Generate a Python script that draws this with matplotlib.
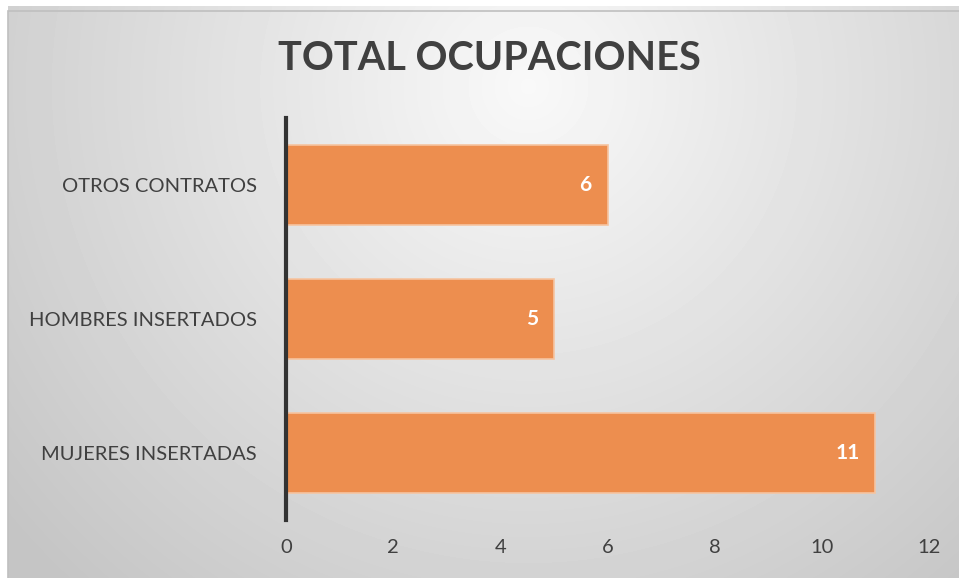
import matplotlib.pyplot as plt
import numpy as np
from matplotlib.patches import Rectangle

categorias = ["MUJERES INSERTADAS", "HOMBRES INSERTADOS", "OTROS CONTRATOS"]
valores = [11, 5, 6]
ticks_x = [0, 2, 4, 6, 8, 10, 12]

plt.rcParams['font.family'] = ['Lato', 'DejaVu Sans']
texto = '#404040'

fig = plt.figure(figsize=(9.59, 5.78), dpi=100)
fig.patch.set_facecolor('white')

# fondo con degradado radial
bg = fig.add_axes([8/959, 0, 951/959, 572/578], zorder=-1)
w, h = 951, 572
yy, xx = np.mgrid[0:h, 0:w]
d = np.sqrt(((xx - 520) / 600.0) ** 2 + ((yy - 80) / 600.0) ** 2)
g = np.clip(0.975 - 0.18 * d, 0.77, 1.0)
bg.imshow(g, cmap='gray', vmin=0, vmax=1, aspect='auto', extent=(0, w, h, 0))
bg.axis('off')
fig.patches.append(Rectangle((7.5/959, -0.01), 953/959, 572.5/578, transform=fig.transFigure,
                             fill=False, edgecolor='#bfbfbf', linewidth=1.2))

ax = fig.add_axes([286/959, 58/578, 643/959, 402/578])
ax.patch.set_alpha(0)
pos = np.arange(len(categorias))
bars = ax.barh(pos, valores, height=0.6, color='#ED8E4F', edgecolor='#F6C4A0', linewidth=1.2)
for b, v in zip(bars, valores):
    ax.text(v - 0.3, b.get_y() + b.get_height() / 2, str(v), ha='right', va='center',
            color='white', fontsize=15, fontweight='bold')

ax.set_xlim(0, 12)
ax.set_ylim(-0.5, 2.5)
ax.set_xticks(ticks_x)
ax.set_yticks(pos)
ax.set_yticklabels(categorias)
for s in ['top', 'right', 'bottom']:
    ax.spines[s].set_visible(False)
ax.spines['left'].set_color('#333333')
ax.spines['left'].set_linewidth(3)
ax.tick_params(axis='both', length=0, labelsize=14.5, colors=texto)
ax.tick_params(axis='x', pad=14)
ax.tick_params(axis='y', pad=21)

fig.text(489/959, 1 - 58/578, "TOTAL OCUPACIONES", ha='center', va='center',
         fontsize=28.5, fontweight='bold', color=texto)

fig.savefig('out.png', dpi=100)
